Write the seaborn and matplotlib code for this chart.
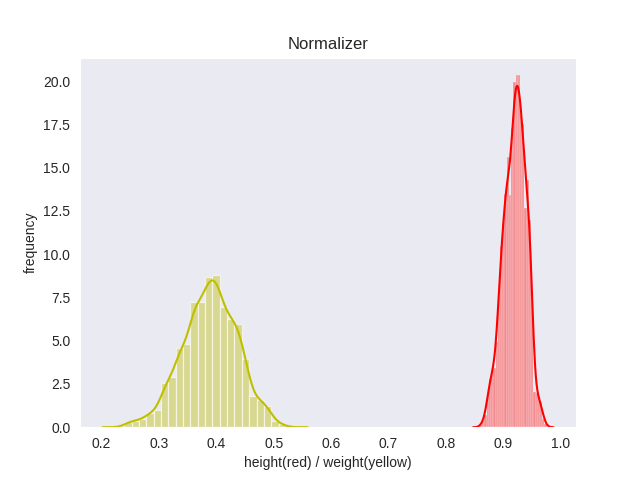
import numpy as np
import pandas as pd
import matplotlib
matplotlib.use("Agg")
import matplotlib.pyplot as plt
import seaborn as sns

# yellow: weight, bin heights (density)
weight_start = 0.2395
weight_width = 0.0128
weight_heights = [0.31, 0.37, 0.48, 0.83, 0.99, 2.53, 2.86, 4.56, 4.75, 7.21, 7.21,
                  8.62, 8.75, 6.92, 6.24, 5.91, 3.94, 1.80, 1.57, 1.24, 0.35, 0.17]

# red: height, bin heights (density)
height_start = 0.8595
height_width = 0.00387
height_heights = [0.15, 0.35, 0.70, 2.0, 2.8, 3.3, 3.4, 4.9, 8.0, 10.5, 11.8, 13.5,
                  15.6, 13.45, 17.3, 19.98, 20.35, 20.35, 18.05, 17.5, 12.7, 14.3,
                  12.0, 7.55, 2.05, 2.0, 1.7, 1.47, 0.5, 0.2]


def to_frame(start, width, heights):
    n = len(heights)
    centers = start + width * (np.arange(n) + 0.5)
    return pd.DataFrame({'value': centers, 'density': heights}), (start, start + width * n)


sns.set_style("dark")
plt.rcParams['font.family'] = ['Liberation Sans', 'DejaVu Sans']

fig, ax = plt.subplots(figsize=(6.4, 4.8), dpi=100)

for start, width, heights, color, bw, cut, lw in [
        (height_start, height_width, height_heights, 'r', 0.4, 2, 0.3),
        (weight_start, weight_width, weight_heights, 'y', 0.33, 3, 0.9)]:
    df, rng = to_frame(start, width, heights)
    sns.histplot(data=df, x='value', weights='density', binwidth=width, binrange=rng,
                 stat='density', color=color, alpha=0.4, edgecolor=(1, 1, 1, 0.6),
                 linewidth=lw, ax=ax)
    sns.kdeplot(data=df, x='value', weights='density', bw_adjust=bw, cut=cut,
                color=color, linewidth=1.5, ax=ax)

ax.set_title("Normalizer")
ax.set_xlabel("height(red) / weight(yellow)")
ax.set_ylabel("frequency")

plt.savefig("out.png")
